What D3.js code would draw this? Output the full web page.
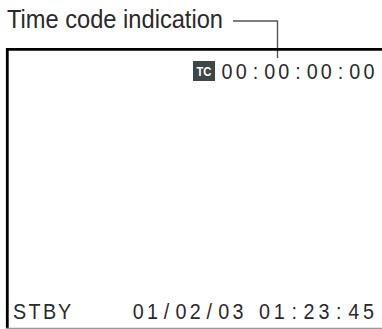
<!DOCTYPE html>
<html>
<head>
<meta charset="utf-8">
<script src="https://cdn.jsdelivr.net/npm/d3@7"></script>
<style>
  body { margin: 0; background: #fff; }
  text { font-family: "Liberation Sans", Arial, Helvetica, sans-serif; }
</style>
</head>
<body>
<svg id="screen"></svg>
<script>
// texts shown on the diagram
const calloutLabel = ["Time code indication"];
const tcBadge = ["TC"];
const timeCode = ["00:00:00:00"];
const statusItems = ["STBY", "01/02/03", "01:23:45"];

const dimensions = { width: 382, height: 329 };

const svg = d3.select("#screen")
  .attr("width", dimensions.width)
  .attr("height", dimensions.height);

// callout text + leader line
svg.append("text")
  .attr("x", 7)
  .attr("y", 28)
  .attr("font-size", 25)
  .attr("fill", "#2a2a2a")
  .attr("textLength", 216)
  .attr("lengthAdjust", "spacingAndGlyphs")
  .text(calloutLabel[0]);

svg.append("path")
  .attr("d", "M233,21H277.5V58")
  .attr("fill", "none")
  .attr("stroke", "#555")
  .attr("stroke-width", 1.4);

// screen frame: thick top/left, thin grey bottom
svg.append("path")
  .attr("d", "M7.3,329V49.3H382")
  .attr("fill", "none")
  .attr("stroke", "#000")
  .attr("stroke-width", 2.8);

svg.append("line")
  .attr("x1", 6).attr("x2", 382)
  .attr("y1", 328.5).attr("y2", 328.5)
  .attr("stroke", "#999")
  .attr("stroke-width", 1.5);

// TC badge
const badge = svg.append("g").attr("transform", "translate(193,61)");
badge.append("rect")
  .attr("width", 22)
  .attr("height", 20)
  .attr("fill", "#3d4747");
badge.append("text")
  .attr("x", 11)
  .attr("y", 15)
  .attr("text-anchor", "middle")
  .attr("font-size", 13)
  .attr("font-weight", "bold")
  .attr("fill", "#fff")
  .attr("textLength", 15)
  .attr("lengthAdjust", "spacingAndGlyphs")
  .text(tcBadge[0]);

// readouts: one glyph per fixed-pitch cell, like an on-screen display
function readout(x0, x1, y, str) {
  const chars = str.split("");
  const cell = d3.scaleBand().domain(d3.range(chars.length)).range([x0, x1]);
  svg.append("g")
    .selectAll("text")
    .data(chars)
    .join("text")
    .attr("transform", (d, i) =>
      `translate(${cell(i) + cell.bandwidth() / 2},${y}) scale(0.92,1)`)
    .attr("text-anchor", "middle")
    .attr("font-size", 21.5)
    .attr("fill", "#2a2a2a")
    .text(d => d);
}

readout(220, 376, 79, timeCode[0]);
readout(12, 72, 319, statusItems[0]);
readout(131, 245, 319, statusItems[1]);
readout(257, 376, 319, statusItems[2]);
</script>
</body>
</html>
